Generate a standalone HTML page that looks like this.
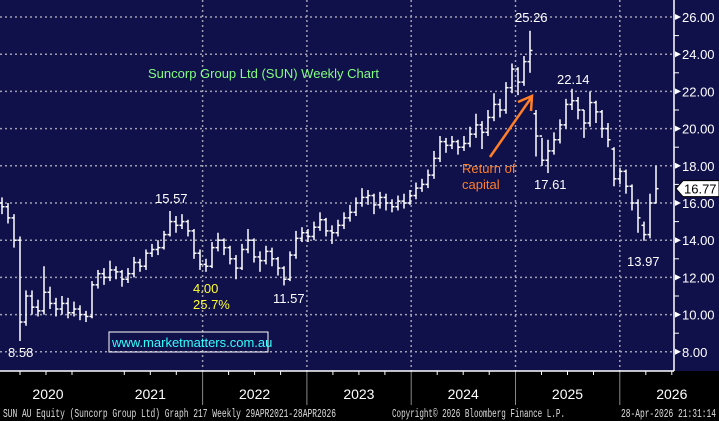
<!DOCTYPE html>
<html><head><meta charset="utf-8"><style>
body{margin:0;background:#000;}
svg{display:block;font-family:"Liberation Sans",sans-serif;}
</style></head><body>
<svg id="c" width="719" height="421" viewBox="0 0 719 421">
<rect x="0" y="0" width="719" height="371" fill="#10104a"/>
<g id="grid"></g>
<g id="bars"></g>
<g id="axis"></g>
<text x="148" y="78" fill="#80ff80" font-size="13">Suncorp Group Ltd (SUN) Weekly Chart</text>
<rect x="109" y="332" width="159" height="20" fill="none" stroke="#fff" stroke-width="1"/>
<text x="112" y="347" fill="#33ffff" font-size="13">www.marketmatters.com.au</text>
<g fill="#fff" font-size="13">
<text x="515" y="22">25.26</text>
<text x="557" y="84">22.14</text>
<text x="534" y="189">17.61</text>
<text x="155" y="203">15.57</text>
<text x="273" y="303">11.57</text>
<text x="8" y="357">8.58</text>
<text x="627" y="266">13.97</text>
</g>
<text x="193" y="293" fill="#ffff33" font-size="13">4.00</text>
<text x="193" y="309" fill="#ffff33" font-size="13">25.7%</text>
<text x="462" y="173" fill="#ff7f27" font-size="13">Return of</text>
<text x="462" y="189" fill="#ff7f27" font-size="13">capital</text>
<g stroke="#ff7f27" stroke-width="2.5" fill="none">
<line x1="490" y1="157" x2="531" y2="98"/>
<polyline points="518,102 532,96 531,111"/>
</g>
<text x="3" y="417" fill="#ddd" font-size="11.5" font-family="Liberation Mono, monospace" textLength="333" lengthAdjust="spacingAndGlyphs">SUN AU Equity (Suncorp Group Ltd) Graph 217 Weekly 29APR2021-28APR2026</text>
<text x="392" y="417" fill="#ddd" font-size="11.5" font-family="Liberation Mono, monospace" textLength="173" lengthAdjust="spacingAndGlyphs">Copyright© 2026 Bloomberg Finance L.P.</text>
<text x="621" y="417" fill="#ddd" font-size="11.5" font-family="Liberation Mono, monospace" textLength="95" lengthAdjust="spacingAndGlyphs">28-Apr-2026 21:31:14</text>
</svg>
<script>
const closes=[15.8,15.2,14.0,9.6,11.0,10.4,10.2,11.2,10.6,10.3,10.6,10.1,10.3,10.0,9.9,11.6,12.2,12.0,12.4,12.3,11.9,12.2,12.8,12.6,13.3,13.5,13.6,14.3,15.0,14.8,15.0,14.5,13.3,12.7,12.6,13.6,14.0,13.6,13.0,12.5,13.5,14.0,13.1,12.9,13.4,13.0,12.5,11.9,13.2,14.1,14.4,14.2,14.7,15.1,14.5,14.4,14.8,15.2,15.5,16.0,16.3,16.4,15.9,16.3,16.0,15.8,16.1,16.0,16.4,16.8,17.0,17.5,18.4,19.3,19.1,19.3,19.0,19.2,19.7,20.2,19.8,20.6,21.3,21.0,22.2,23.2,22.5,23.6,24.2,19.6,18.3,18.8,19.4,20.2,21.3,21.5,21.0,20.3,21.4,20.9,20.0,19.4,17.3,17.7,16.9,16.0,15.2,14.3,16.0,16.77];
const opens=[16.0,15.8,15.2,14.0,9.6,11.0,10.4,10.2,11.2,10.6,10.3,10.6,10.1,10.3,10.0,9.9,11.6,12.2,12.0,12.4,12.3,11.9,12.2,12.8,12.6,13.3,13.5,13.6,14.3,15.0,14.8,15.0,14.5,13.3,12.7,12.6,13.6,14.0,13.6,13.0,12.5,13.5,14.0,13.1,12.9,13.4,13.0,12.5,11.9,13.2,14.1,14.4,14.2,14.7,15.1,14.5,14.4,14.8,15.2,15.5,16.0,16.3,16.4,15.9,16.3,16.0,15.8,16.1,16.0,16.4,16.8,17.0,17.5,18.4,19.3,19.1,19.3,19.0,19.2,19.7,20.2,19.8,20.6,21.3,21.0,22.2,23.2,22.5,23.6,20.8,19.6,18.3,18.8,19.4,20.2,21.3,21.5,21.0,20.3,21.4,20.9,20.0,18.9,17.3,17.7,16.9,16.0,14.8,14.3,16.0];
const highs=[16.3,16.0,15.4,14.2,11.3,11.3,10.8,12.6,11.5,10.9,11.0,10.9,10.7,10.5,10.2,11.8,12.4,12.5,12.9,12.6,12.4,12.5,13.1,13.0,13.5,13.8,14.0,14.5,15.57,15.3,15.4,15.1,14.6,13.5,13.0,13.9,14.4,14.1,13.7,13.2,13.8,14.6,14.1,13.4,13.7,13.6,13.1,12.6,13.4,14.5,14.7,14.6,15.0,15.5,15.2,14.8,15.1,15.5,15.9,16.3,16.8,16.7,16.5,16.6,16.5,16.2,16.4,16.5,16.7,17.1,17.3,17.8,18.8,19.6,19.5,19.6,19.4,19.6,20.1,20.8,20.4,21.0,21.9,21.6,22.5,23.5,23.3,23.9,25.26,21.0,19.5,19.4,19.8,20.5,21.6,22.14,21.7,21.0,22.0,21.5,21.0,20.3,19.0,17.9,17.8,17.0,16.2,15.0,16.5,18.0];
const lows=[15.4,14.9,13.6,8.58,9.4,10.0,9.9,10.0,10.3,9.9,10.0,9.8,9.9,9.7,9.6,9.8,11.4,11.6,11.8,11.9,11.5,11.7,12.0,12.3,12.4,13.1,13.2,13.5,14.2,14.4,14.6,14.2,13.0,12.4,12.3,12.5,13.4,13.2,12.7,11.9,12.4,13.3,12.8,12.3,12.7,12.6,12.1,11.57,11.8,13.0,13.9,13.9,14.0,14.5,14.2,13.8,14.2,14.6,15.0,15.3,15.8,15.9,15.4,15.7,15.6,15.5,15.6,15.7,15.9,16.2,16.6,16.8,17.3,18.2,18.7,18.9,18.6,18.8,19.0,19.5,18.9,19.6,20.4,20.6,20.8,21.9,21.8,22.3,23.0,18.5,18.0,17.61,18.6,19.2,20.0,21.0,20.5,19.5,20.1,20.3,19.5,19.0,16.9,17.0,16.5,15.6,14.4,13.97,14.1,16.0];
const yTicks=[8,10,12,14,16,18,20,22,24,26];
const yearLabels=["2020","2021","2022","2023","2024","2025","2026"];
const lastPrice=16.77;

const NS="http://www.w3.org/2000/svg";
const PLOT_R=674, BOTTOM=371;
const yS=v=>17+(26-v)*18.6;
const xS=i=>2+i*6;
const yearX=i=>-6+i*104.3;
function mk(tag,attrs,parent){const e=document.createElementNS(NS,tag);for(const k in attrs)e.setAttribute(k,attrs[k]);parent.appendChild(e);return e;}
const grid=document.getElementById('grid'),bars=document.getElementById('bars'),axis=document.getElementById('axis');

yTicks.forEach(v=>{
  const y=yS(v);
  const l=mk('line',{x1:0,x2:PLOT_R,y1:y,y2:y,stroke:'#a0a0b0','stroke-width':1.5,'stroke-dasharray':'2,3'},grid);
  
  
  const m=mk('polygon',{points:`${PLOT_R+1},${y-3} ${PLOT_R+7},${y} ${PLOT_R+1},${y+3}`,fill:'#fff'},axis);
  
  
  const t=mk('text',{x:682,y:y+5,fill:'#fff','font-size':13},axis);
  t.textContent=v.toFixed(2);
  
  
  const mt=mk('line',{x1:PLOT_R,x2:PLOT_R+5,y1:yS(v+1),y2:yS(v+1),stroke:'#fff'},axis);
  
  
});
for(let i=1;i<yearLabels.length;i++){
  const x=yearX(i)+104.3;
  const l=mk('line',{x1:x,x2:x,y1:0,y2:BOTTOM,stroke:'#a0a0b0','stroke-width':1.5,'stroke-dasharray':'2,3'},grid);
  
  
  const s=mk('line',{x1:x,x2:x,y1:BOTTOM,y2:405,stroke:'#888'},axis);
  
  
}
yearLabels.forEach((yl,i)=>{
  const t=mk('text',{x:yearX(i)+52+(i===0?2:0),y:399,fill:'#fff','font-size':14,'text-anchor':'middle'},axis);
  t.textContent=yl;
  
  
  for(let q=1;q<4;q++){
    const x=yearX(i)+q*26;
    if(x>0&&x<PLOT_R){
      const tk=mk('line',{x1:x,x2:x,y1:BOTTOM,y2:BOTTOM+4,stroke:'#fff'},axis);
      
      
    }
  }
});
const ax=mk('line',{x1:0,x2:PLOT_R,y1:BOTTOM,y2:BOTTOM,stroke:'#fff','stroke-width':1.5},axis);


const ay=mk('line',{x1:PLOT_R,x2:PLOT_R,y1:0,y2:BOTTOM,stroke:'#fff','stroke-width':1.5},axis);



closes.forEach((c,i)=>{
  const x=xS(i);
  const g=mk('g',{stroke:'#fff','stroke-width':1.5},bars);
  
  
  mk('line',{x1:x,x2:x,y1:yS(highs[i]),y2:yS(lows[i])},g);
  mk('line',{x1:x-2.5,x2:x,y1:yS(opens[i]),y2:yS(opens[i])},g);
  mk('line',{x1:x,x2:x+2.5,y1:yS(c),y2:yS(c)},g);
});
const py=yS(lastPrice);
const tag=mk('polygon',{points:`${PLOT_R+2},${py} ${PLOT_R+9},${py-8} 719,${py-8} 719,${py+8} ${PLOT_R+9},${py+8}`,fill:'#fff',stroke:'#000'},axis);


const tt=mk('text',{x:684,y:py+5,fill:'#000','font-size':13},axis);
tt.textContent=lastPrice.toFixed(2);


</script>
</body></html>
